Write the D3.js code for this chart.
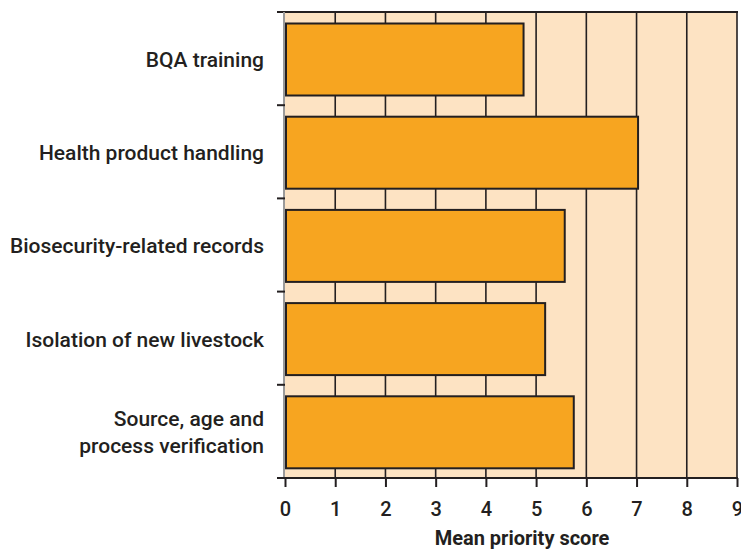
<!DOCTYPE html>
<html><head><meta charset="utf-8">
<script src="https://cdn.jsdelivr.net/npm/d3@7"></script>
<style>body{margin:0;background:#fff}svg{display:block}text{font-family:Roboto,sans-serif;fill:#231f20}</style>
</head><body>
<script>
const categories = [["BQA training"],["Health product handling"],["Biosecurity-related records"],["Isolation of new livestock"],["Source, age and","process verification"]];
const values = [4.75, 7.03, 5.57, 5.18, 5.75];
const xTicks = [0,1,2,3,4,5,6,7,8,9];
const xTitle = "Mean priority score";

const W=741,H=553;
const L=285,R=737,T=12,B=478;
const svg=d3.select("body").append("svg").attr("width",W).attr("height",H);
const x=d3.scaleLinear().domain([0,9]).range([L,R]);
const y=d3.scaleBand().domain(d3.range(categories.length)).range([T,B]);
const dark="#231f20";

svg.append("rect").attr("x",L).attr("y",T).attr("width",R-L).attr("height",B-T).attr("fill","#fde3c3");
// gridlines
svg.append("g").selectAll("line").data(xTicks.slice(1)).join("line")
 .attr("x1",d=>x(d)).attr("x2",d=>x(d)).attr("y1",T).attr("y2",B)
 .attr("stroke",dark).attr("stroke-width",1.6);
// top border
svg.append("line").attr("x1",L-8).attr("x2",R+1).attr("y1",T).attr("y2",T).attr("stroke",dark).attr("stroke-width",2);
// left axis
svg.append("line").attr("x1",L-1).attr("x2",L-1).attr("y1",T).attr("y2",B).attr("stroke","#9a9a9a").attr("stroke-width",2);
// bars
const bh=72;
svg.append("g").selectAll("rect").data(values).join("rect")
 .attr("x",x(0)+1).attr("y",(d,i)=>y(i)+11.5).attr("width",d=>x(d)-x(0)-1).attr("height",bh)
 .attr("fill","#f7a520").attr("stroke",dark).attr("stroke-width",2);
// y ticks
svg.append("g").selectAll("line").data(d3.range(1,categories.length)).join("line")
 .attr("x1",L-8).attr("x2",L).attr("y1",d=>y(d)).attr("y2",d=>y(d)).attr("stroke",dark).attr("stroke-width",2);
// x axis
const xa=svg.append("g").attr("transform",`translate(0,${B})`).call(d3.axisBottom(x).tickValues(xTicks).tickSize(9).tickFormat(d3.format("d")));
xa.select(".domain").attr("stroke",dark).attr("stroke-width",2).attr("d",`M${L-8},0H${R+1}`);
xa.selectAll(".tick line").attr("stroke",dark).attr("stroke-width",2);
xa.selectAll(".tick text").attr("y",38).attr("dy",null).attr("font-size",20).attr("font-weight",500).attr("fill",dark).style("font-family","Roboto");
// category labels
const lg=svg.append("g");
categories.forEach((lines,i)=>{
  const cy=y(i)+11.5+bh/2;
  const n=lines.length, lh=27;
  lines.forEach((s,j)=>{
    lg.append("text").attr("x",264).attr("y",cy+(j-(n-1)/2)*lh).attr("dy","0.36em")
      .attr("text-anchor","end").attr("font-size",21).attr("font-weight",500).text(s);
  });
});
svg.append("text").attr("x",522).attr("y",545).attr("text-anchor","middle").attr("font-size",20).attr("font-weight",700).text(xTitle);
</script>
</body></html>
